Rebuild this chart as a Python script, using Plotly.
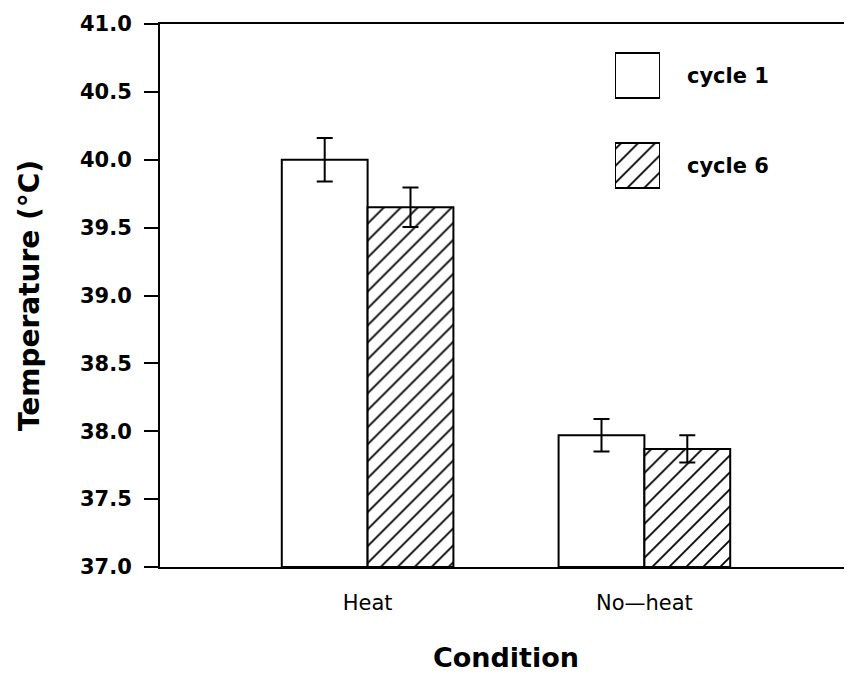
import plotly.graph_objects as go

conditions = ["Heat", "No—heat"]
series_names = ["cycle 1", "cycle 6"]
cycle1_mean = [40.00, 37.97]
cycle1_err = [0.16, 0.12]
cycle6_mean = [39.65, 37.87]
cycle6_err = [0.145, 0.10]
y_ticks = [37.0, 37.5, 38.0, 38.5, 39.0, 39.5, 40.0, 40.5, 41.0]

BASE = 37.0
hatch = dict(shape="/", fgcolor="black", fgopacity=1, bgcolor="white", size=12, solidity=0.15)

fig = go.Figure()

fig.add_trace(go.Bar(
    x=conditions, y=[v - BASE for v in cycle1_mean], base=BASE,
    name=series_names[0], showlegend=False,
    marker=dict(color="white", line=dict(color="black", width=2)),
    error_y=dict(type="data", array=cycle1_err, color="black", thickness=2, width=8),
))
fig.add_trace(go.Bar(
    x=conditions, y=[v - BASE for v in cycle6_mean], base=BASE,
    name=series_names[1], showlegend=False,
    marker=dict(color="white", line=dict(color="black", width=2), pattern=hatch),
    error_y=dict(type="data", array=cycle6_err, color="black", thickness=2, width=8),
))

# legend boxes drawn as a tiny inset bar chart
fig.add_trace(go.Bar(
    x=[1], y=[series_names[0]], orientation="h", xaxis="x2", yaxis="y2", showlegend=False,
    width=0.5, hoverinfo="skip",
    marker=dict(color="white", line=dict(color="black", width=2)),
))
fig.add_trace(go.Bar(
    x=[1], y=[series_names[1]], orientation="h", xaxis="x2", yaxis="y2", showlegend=False,
    width=0.5, hoverinfo="skip",
    marker=dict(color="white", line=dict(color="black", width=2), pattern=hatch),
))

fig.update_layout(
    width=844, height=669,
    margin=dict(l=152, r=0, t=16, b=110),
    paper_bgcolor="white", plot_bgcolor="white",
    barmode="group", bargap=0.38, bargroupgap=0,
    xaxis=dict(
        type="category", range=[-0.75, 1.75],
        showline=True, linecolor="black", linewidth=2, mirror=True,
        showgrid=False, zeroline=False, ticks="",
        tickfont=dict(family="DejaVu Sans", size=21, color="black"),
        ticklabelstandoff=16,
        title=dict(text="<b>Condition</b>", font=dict(family="DejaVu Sans", size=27, color="black"), standoff=34),
    ),
    yaxis=dict(
        range=[37.0, 41.0], tickvals=y_ticks, tickformat=".1f",
        showline=True, linecolor="black", linewidth=2, mirror=False,
        showgrid=False, zeroline=False,
        ticks="outside", ticklen=14, tickwidth=2, tickcolor="black",
        ticklabelstandoff=8,
        tickfont=dict(family="DejaVu Sans", size=21, color="black", weight="bold"),
        title=dict(text="<b>Temperature (°C)</b>", font=dict(family="DejaVu Sans", size=28, color="black"), standoff=32),
    ),
    xaxis2=dict(domain=[0.6575, 0.7225], range=[0, 1], anchor="y2",
                showline=False, showgrid=False, zeroline=False, showticklabels=False, fixedrange=True),
    yaxis2=dict(domain=[0.6565, 0.988], range=[-0.5, 1.5], anchor="x2", type="category",
                categoryorder="array", categoryarray=[series_names[1], series_names[0]],
                side="right", showline=False, showgrid=False, zeroline=False, ticks="",
                tickfont=dict(family="DejaVu Sans", size=21, color="black", weight="bold"),
                ticklabelstandoff=26, fixedrange=True),
)

fig.write_html("out.html")
